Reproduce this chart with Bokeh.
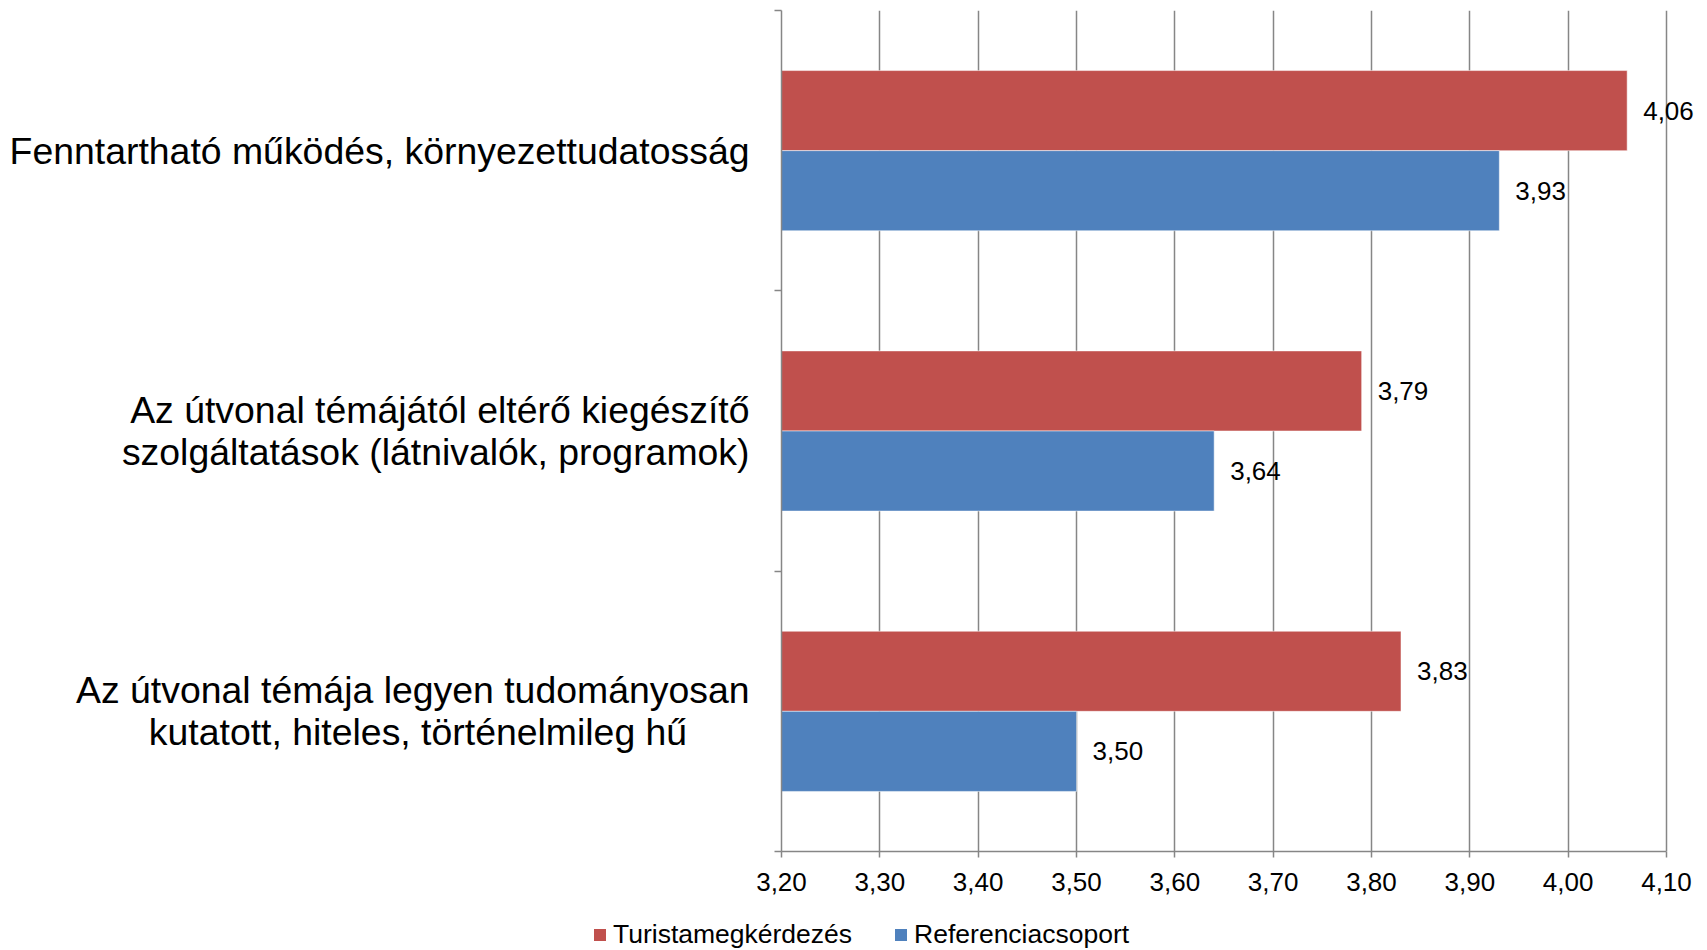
import numpy as np
from bokeh.plotting import figure
from bokeh.layouts import column, row
from bokeh.models import (ColumnDataSource, FixedTicker, CustomJSTickFormatter,
                          Legend, LegendItem, Range1d)
from bokeh.core.properties import value
from bokeh.embed import file_html
from bokeh.resources import INLINE

# ---- data (bottom to top) ----
categories = [
    "Az útvonal témája legyen tudományosan\nkutatott, hiteles, történelmileg hű\u00a0\u00a0\u00a0\u00a0\u00a0\u00a0",
    "Az útvonal témájától eltérő kiegészítő\nszolgáltatások (látnivalók, programok)",
    "Fenntartható működés, környezettudatosság",
]
series_names = ["Turistamegkérdezés", "Referenciacsoport"]
turista = [3.83, 3.79, 4.06]
referencia = [3.50, 3.64, 3.93]
x_ticks = [3.2, 3.3, 3.4, 3.5, 3.6, 3.7, 3.8, 3.9, 4.0, 4.1]
colors = ["#C0504D", "#4F81BD"]

FONT = "Liberation Sans"
GRID = "#868686"

n = len(categories)
centers = np.arange(n) + 0.5
bar_h = 0.2857
offsets = [bar_h / 2, -bar_h / 2]

# frame spans 781..1707 px; 3.20..4.10 occupies 885 px of it
frame_w = 1707 - 781
x_end = x_ticks[0] + (x_ticks[-1] - x_ticks[0]) * frame_w / 885.0

MAIN_H = 906
LEG_H = 950 - MAIN_H

p = figure(width=1707, height=MAIN_H, output_backend="svg", toolbar_location=None,
           x_range=Range1d(x_ticks[0], x_end), y_range=Range1d(0, n),
           min_border_left=781, min_border_right=0, min_border_top=10, min_border_bottom=MAIN_H - 851)
p.outline_line_color = None
p.background_fill_color = "white"

for vals, name, col, off in zip([turista, referencia], series_names, colors, offsets):
    src = ColumnDataSource(dict(
        y=centers + off,
        left=[x_ticks[0]] * n,
        right=vals,
        lbl=[f"{v:.2f}".replace(".", ",") for v in vals],
    ))
    p.hbar(y="y", left="left", right="right", height=bar_h, source=src,
           fill_color=col, line_color="white", line_width=1, line_alpha=0.5)
    p.text(x="right", y="y", text="lbl", source=src, x_offset=16,
           text_font=value(FONT), text_font_size="26px", text_color="black",
           text_align="left", text_baseline="middle")

# x axis
p.xaxis.ticker = FixedTicker(ticks=x_ticks, minor_ticks=[])
p.xaxis.bounds = (x_ticks[0], x_ticks[-1])
p.xaxis.formatter = CustomJSTickFormatter(code="return tick.toFixed(2).replace('.', ',');")
p.xaxis.major_tick_out = 6
p.xaxis.major_tick_in = 0
p.xaxis.minor_tick_out = 0
p.xaxis.minor_tick_in = 0
p.xaxis.axis_line_color = GRID
p.xaxis.axis_line_width = 1.5
p.xaxis.major_tick_line_color = GRID
p.xaxis.major_tick_line_width = 1.5
p.xaxis.major_label_text_font = FONT
p.xaxis.major_label_text_font_size = "26px"
p.xaxis.major_label_text_color = "black"
p.xaxis.major_label_standoff = 15

# y axis
p.yaxis.ticker = FixedTicker(ticks=list(centers), minor_ticks=list(np.arange(n + 1).astype(float)))
p.yaxis.major_label_overrides = {float(c): lab for c, lab in zip(centers, categories)}
p.yaxis.major_tick_out = 0
p.yaxis.major_tick_in = 0
p.yaxis.minor_tick_out = 7
p.yaxis.minor_tick_in = 0
p.yaxis.minor_tick_line_color = GRID
p.yaxis.minor_tick_line_width = 1.5
p.yaxis.axis_line_color = GRID
p.yaxis.axis_line_width = 1.5
p.yaxis.major_label_text_font = FONT
p.yaxis.major_label_text_font_size = "37.4px"
p.yaxis.major_label_text_color = "black"
p.yaxis.major_label_text_line_height = 1.0
p.yaxis.major_label_standoff = 25

p.xgrid.ticker = FixedTicker(ticks=x_ticks)
p.xgrid.grid_line_color = GRID
p.xgrid.grid_line_width = 1.5
p.ygrid.visible = False

# ---- legend strip below the chart ----
lf = figure(width=1707, height=LEG_H, output_backend="svg", toolbar_location=None,
            x_range=Range1d(0, 1), y_range=Range1d(0, 1),
            x_axis_type=None, y_axis_type=None,
            min_border_left=0, min_border_right=0, min_border_top=0, min_border_bottom=0)
lf.outline_line_color = None
lf.xgrid.visible = False
lf.ygrid.visible = False
items = []
for name, col in zip(series_names, colors):
    # zero-size swatch renderer: only its legend glyph is visible
    r = lf.hbar(y=[0.5], left=[0.0], right=[0.0], height=0.0, fill_color=col,
                line_color=None)
    items.append(LegendItem(label=name, renderers=[r]))
legend = Legend(items=items, orientation="horizontal", location=(592, 0),
                padding=0, margin=0, spacing=41, label_standoff=6,
                glyph_width=15, glyph_height=15, label_height=20,
                label_text_font=FONT, label_text_font_size="26.5px", label_text_color="black",
                border_line_alpha=0, background_fill_alpha=0)
lf.add_layout(legend, "center")

layout = column(p, row(lf, spacing=0), spacing=0)
open("out.html", "w").write(file_html(layout, INLINE))
